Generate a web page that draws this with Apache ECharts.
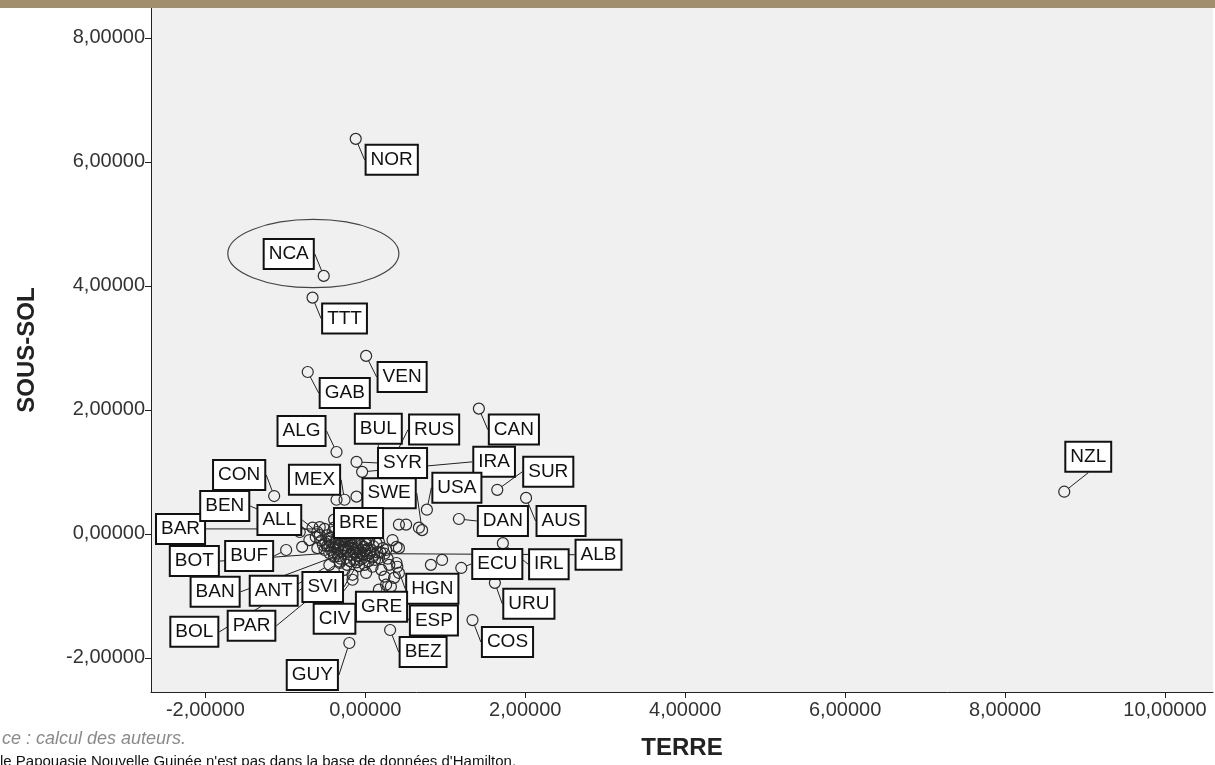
<!DOCTYPE html>
<html>
<head>
<meta charset="utf-8">
<title>TERRE / SOUS-SOL</title>
<script src="https://cdn.jsdelivr.net/npm/echarts@6/dist/echarts.min.js"></script>
<style>
	html, body { margin: 0; padding: 0; background: #ffffff; }
	#main { width: 1215px; height: 765px; }
</style>
</head>
<body>
<div id="main"></div>
<script>
	// pays étiquetés
	const pays = ['NOR','NCA','TTT','VEN','GAB','CAN','ALG','BUL','RUS','SYR','IRA','CON','MEX','SWE','USA','SUR','AUS','DAN','IRL','ALB','ECU','HGN','URU','ESP','COS','BEZ','GRE','CIV','GUY','NZL','BUF','BAR','ALL','BRE','BEN','BOT','BAN','ANT','SVI','BOL','PAR']
	const terre = [-0.12,-0.52,-0.66,0.01,-0.72,1.42,-0.36,0.15,0.36,-0.11,-0.04,-1.14,-0.26,0.71,0.77,1.65,2.01,1.17,1.72,0.24,1.20,0.40,1.62,0.32,1.34,0.31,0.24,-0.16,-0.20,8.74,-0.99,-0.51,-0.60,-0.26,-0.57,-0.45,-0.39,-0.32,-0.07,-0.45,-0.26]
	const sousSol = [6.37,4.16,3.81,2.87,2.61,2.02,1.32,0.31,1.23,1.16,1.00,0.61,0.55,0.06,0.39,0.71,0.58,0.24,-0.15,-0.32,-0.55,-0.53,-0.79,-0.85,-1.39,-1.55,-0.69,-0.74,-1.76,0.68,-0.26,0.08,0.03,-0.10,-0.02,-0.31,-0.37,-0.45,-0.42,-0.50,-0.58]

	// points sans étiquette (nuage central)
	const autresTerre = [-0.66,-0.57,-0.79,-0.70,-0.62,-0.55,-0.47,-0.42,-0.37,-0.32,-0.27,-0.22,-0.17,-0.12,-0.07,-0.02,0.02,0.07,0.12,0.17,0.22,0.26,0.34,0.42,0.39,0.42,0.01,0.09,-0.32,-0.16,0.26,-0.29,-0.39,-0.20,-0.10,-0.05,-0.45,-0.51,-0.60,-0.14,-0.24,-0.35,0.05,0.14,-0.01,0.20,-0.11,-0.36,0.42,0.51,0.67,0.96,0.82,0.17,0.11,-0.01,-0.82,-0.39,-0.26,-0.17,-0.32,-0.05,0.00,-0.41,-0.14,0.11,0.30,0.36,-0.44,-0.38,-0.30,-0.20,-0.28,-0.15,-0.10,-0.04,0.04,-0.50,-0.34,-0.23,-0.08,0.15,0.28,0.17,0.39,
		-0.48,-0.43,-0.36,-0.33,-0.29,-0.25,-0.21,-0.18,-0.13,-0.09,-0.06,-0.03,0.01,0.03,0.06,0.09,-0.40,-0.31,-0.19,-0.11,-0.26,-0.22,-0.34,-0.16,-0.12,0.00,-0.46,-0.53,0.10,0.19]
	const autresSousSol = [0.10,0.11,-0.21,-0.10,-0.05,-0.11,-0.02,-0.06,-0.16,0.00,-0.23,-0.29,-0.18,-0.24,-0.31,-0.21,-0.35,-0.26,-0.42,-0.39,-0.23,-0.26,-0.10,-0.23,-0.47,-0.63,-0.63,-0.53,-0.47,-0.66,-0.82,0.06,0.10,-0.02,-0.10,0.06,-0.19,-0.26,-0.23,-0.42,-0.39,-0.32,-0.10,-0.15,-0.50,-0.58,0.60,0.55,0.15,0.15,0.10,-0.42,-0.50,-0.90,-1.06,-1.03,0.03,0.23,-0.18,-0.06,-0.11,-0.18,-0.27,0.03,0.06,-0.34,-0.50,-0.71,-0.12,-0.22,-0.28,-0.12,-0.08,-0.30,-0.36,-0.40,-0.44,-0.15,-0.36,-0.50,-0.52,-0.30,-0.40,-0.13,-0.21,
		-0.20,-0.26,-0.08,-0.19,-0.14,-0.26,-0.21,-0.34,-0.14,-0.22,-0.28,-0.33,-0.17,-0.24,-0.31,-0.38,-0.30,-0.40,-0.44,-0.46,-0.04,-0.09,-0.25,-0.24,-0.30,-0.10,-0.08,-0.18,-0.20,-0.30]

	const ticksX = [-2, 0, 2, 4, 6, 8, 10]
	const ticksY = [-2, 0, 2, 4, 6, 8]

	// ellipse autour de NCA : centre x, centre y, demi-axes
	const ellipseNCA = [-0.65, 4.52, 1.07, 0.55]

	// décalage des étiquettes (pixels)
	const decalages = {
		NOR:[36,21], NCA:[-35,-22], TTT:[32,21], VEN:[36,21], GAB:[37,21], CAN:[35,21],
		ALG:[-35,-21], BUL:[1,-86], RUS:[40,-28], SYR:[46,1], IRA:[132,-10], CON:[-35,-21],
		MEX:[-30,-20], SWE:[-33,-37], USA:[30,-22], SUR:[51,-18], AUS:[35,23], DAN:[44,2],
		IRL:[46,21], ALB:[214,1], ECU:[36,-4], HGN:[35,22], URU:[34,21], ESP:[43,34],
		COS:[35,22], BEZ:[33,22], GRE:[-3,30], CIV:[-18,39], GUY:[-37,32], NZL:[24,-35],
		BUF:[-37,6], BAR:[-144,0], ALL:[-38,-12], BRE:[14,-17], BEN:[-95,-29], BOT:[-135,8],
		BAN:[-119,35], ANT:[-66,29], SVI:[-37,27], BOL:[-135,67], PAR:[-93,56]
	}

	const fmt = function (v) { return v.toFixed(5).replace('.', ',') }

	const symbole = {
		color: 'rgba(0,0,0,0)',
		borderColor: '#2a2a2a',
		borderWidth: 1.2,
		opacity: 1
	}

	const myChart = echarts.init(document.getElementById('main'))

	let option = {
		backgroundColor: '#ffffff',
		animation: false,
		textStyle: { fontFamily: 'Liberation Sans, Arial, sans-serif' },
		grid: {
			left: 151,
			top: 8,
			right: 2,
			bottom: 73,
			show: true,
			backgroundColor: '#f0f0f0',
			borderWidth: 0
		},
		graphic: [
			{ type: 'rect', left: 0, top: 0, shape: { width: 1215, height: 8 }, style: { fill: '#a28d6d' }, z: 100 },
			{ type: 'text', left: 2, top: 730, style: { text: 'ce : calcul des auteurs.', fill: '#8a8a8a', font: 'italic 18px Liberation Sans, Arial, sans-serif' } },
			{ type: 'text', left: 0, top: 754, style: { text: "le Papouasie Nouvelle Guinée n'est pas dans la base de données d'Hamilton.", fill: '#111', font: '15px Liberation Sans, Arial, sans-serif' } }
		],
		xAxis: {
			type: 'value',
			min: -2.68,
			max: 10.6,
			name: 'TERRE',
			nameLocation: 'middle',
			nameGap: 44,
			nameTextStyle: { fontSize: 24, fontWeight: 'bold', color: '#222' },
			axisLine: { onZero: false, lineStyle: { color: '#222', width: 1 } },
			axisTick: { show: true, length: 6, customValues: ticksX, lineStyle: { color: '#222' } },
			axisLabel: { customValues: ticksX, formatter: fmt, fontSize: 20, color: '#333', margin: 8 },
			splitLine: { show: false }
		},
		yAxis: {
			type: 'value',
			min: -2.55,
			max: 8.48,
			name: 'SOUS-SOL',
			nameLocation: 'middle',
			nameRotate: 90,
			nameGap: 112,
			nameTextStyle: { fontSize: 24, fontWeight: 'bold', color: '#222' },
			axisLine: { show: true, onZero: false, lineStyle: { color: '#222', width: 1 } },
			axisTick: { show: true, length: 6, customValues: ticksY, lineStyle: { color: '#222' } },
			axisLabel: { customValues: ticksY, formatter: fmt, fontSize: 20, color: '#333', margin: 6 },
			splitLine: { show: false }
		},
		series: [
			{
				type: 'scatter',
				name: 'autres',
				symbol: 'circle',
				symbolSize: 11,
				silent: true,
				itemStyle: symbole,
				data: autresTerre.map(function (x, i) { return [x, autresSousSol[i]] })
			},
			{
				type: 'scatter',
				name: 'pays',
				symbol: 'circle',
				symbolSize: 11,
				silent: true,
				itemStyle: symbole,
				label: {
					show: true,
					position: 'inside',
					formatter: '{b}',
					fontSize: 19,
					lineHeight: 20,
					color: '#111',
					backgroundColor: '#ffffff',
					borderColor: '#111',
					borderWidth: 2,
					padding: [4, 4, 4, 4]
				},
				labelLine: {
					show: true,
					lineStyle: { color: '#222', width: 1 }
				},
				labelLayout: function (params) {
					let d = decalages[pays[params.dataIndex]]
					return { dx: d[0], dy: d[1] }
				},
				data: pays.map(function (p, i) { return { name: p, value: [terre[i], sousSol[i]] } })
			},
			{
				type: 'custom',
				name: 'ellipse',
				silent: true,
				data: [ellipseNCA],
				renderItem: function (params, api) {
					let c = api.coord([api.value(0), api.value(1)])
					let s = api.size([api.value(2), api.value(3)])
					return {
						type: 'ellipse',
						shape: { cx: c[0], cy: c[1], rx: s[0], ry: s[1] },
						style: { fill: 'none', stroke: '#444', lineWidth: 1.2 }
					}
				}
			}
		]
	}

	myChart.setOption(option)
</script>
</body>
</html>
